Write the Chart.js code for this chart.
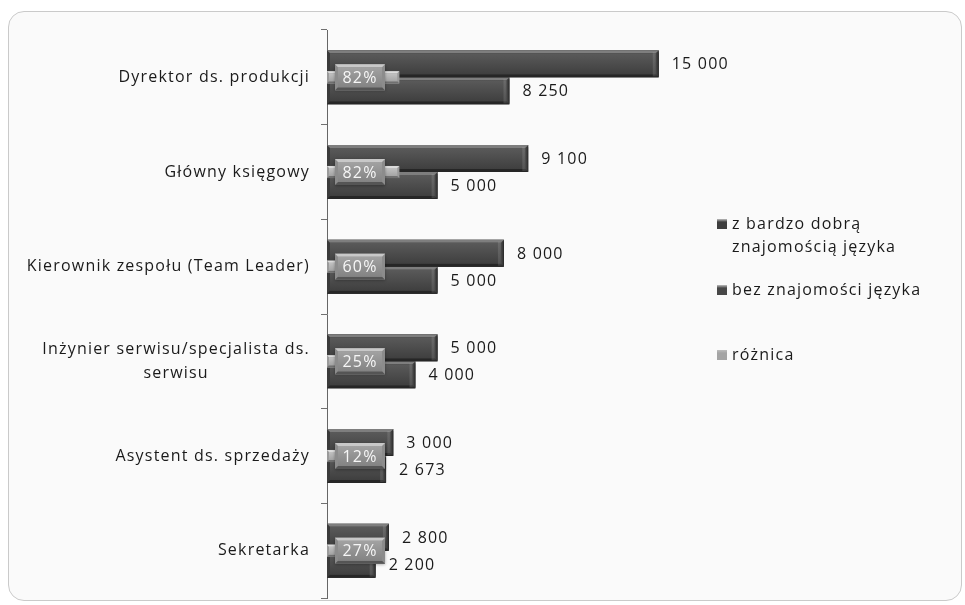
<!DOCTYPE html>
<html>
<head>
<meta charset="utf-8">
<script src="https://cdn.jsdelivr.net/npm/chart.js@4/dist/chart.umd.min.js"></script>
<style>
  html, body { margin: 0; padding: 0; background: #ffffff; }
  #frame {
    position: absolute; left: 8px; top: 11px; width: 952px; height: 588px;
    border: 1px solid #cacaca; border-radius: 16px; background: #fafafa;
  }
  #wrap { position: absolute; left: 0; top: 0; width: 965px; height: 605px; }
</style>
</head>
<body>
<div id="frame"></div>
<div id="wrap"><canvas id="chart" width="965" height="605"></canvas></div>
<script>
// Monthly salaries (PLN) by position, with and without foreign-language skills
const categories = [
  ["Dyrektor ds. produkcji"],
  ["Główny księgowy"],
  ["Kierownik zespołu (Team Leader)"],
  ["Inżynier serwisu/specjalista ds.", "serwisu"],
  ["Asystent ds. sprzedaży"],
  ["Sekretarka"]
];
const withLanguage = [15000, 9100, 8000, 5000, 3000, 2800];
const withoutLanguage = [8250, 5000, 5000, 4000, 2673, 2200];
const differencePct = [82, 82, 60, 25, 12, 27];
const seriesNames = [
  ["z bardzo dobrą", "znajomością języka"],
  ["bez znajomości języka"],
  ["różnica"]
];

const FONT = '16px "Open Sans"';
const TEXT = '#1a1a1a';

function fmt(v) {
  return String(v).replace(/\B(?=(\d{3})+(?!\d))/g, ' ');
}

function withSpacing(ctx, fn) {
  ctx.save();
  ctx.font = FONT;
  if ('letterSpacing' in ctx) ctx.letterSpacing = '1.2px';
  fn();
  ctx.restore();
}

// bevelled rectangle: light top edge, dark bottom edge, mid-tone sides
function bevelRect(ctx, x, y, w, h, b, c) {
  ctx.fillStyle = c.side;
  ctx.fillRect(x, y, w, h);
  ctx.beginPath();
  ctx.moveTo(x, y); ctx.lineTo(x + w, y); ctx.lineTo(x + w - b, y + b); ctx.lineTo(x + b, y + b);
  ctx.closePath();
  ctx.fillStyle = c.light; ctx.fill();
  ctx.beginPath();
  ctx.moveTo(x, y + h); ctx.lineTo(x + w, y + h); ctx.lineTo(x + w - b, y + h - b); ctx.lineTo(x + b, y + h - b);
  ctx.closePath();
  ctx.fillStyle = c.dark; ctx.fill();
  const g = ctx.createLinearGradient(0, y + b, 0, y + h - b);
  g.addColorStop(0, c.faceTop);
  g.addColorStop(1, c.faceBottom);
  ctx.fillStyle = g;
  ctx.fillRect(x + b, y + b, w - 2 * b, h - 2 * b);
}

// Soft drop shadow under the salary bars, then bevel shading over them
const barShadow = {
  id: 'barShadow',
  beforeDatasetDraw(chart, args) {
    if (args.index > 1) return;
    const ctx = chart.ctx;
    ctx.save();
    ctx.shadowColor = 'rgba(0,0,0,0.35)';
    ctx.shadowBlur = 4;
    ctx.shadowOffsetX = 1;
    ctx.shadowOffsetY = 2;
  },
  afterDatasetDraw(chart, args) {
    const ctx = chart.ctx;
    if (args.index <= 1) ctx.restore();
    args.meta.data.forEach(el => {
      const p = el.getProps(['x', 'y', 'base', 'height'], true);
      const left = Math.min(p.base, p.x), right = Math.max(p.base, p.x);
      const top = p.y - p.height / 2, h = p.height;
      ctx.save();
      if (args.index <= 1) {
        bevelRect(ctx, left, top, right - left, h, 3, {
          side: '#3a3a3a', light: '#7e7e7e', dark: '#262626',
          faceTop: '#5a5a5a', faceBottom: '#3f3f3f'
        });
        // end cap
        const cap = ctx.createLinearGradient(right - 6, 0, right, 0);
        cap.addColorStop(0, 'rgba(255,255,255,0.10)');
        cap.addColorStop(1, 'rgba(0,0,0,0.35)');
        ctx.fillStyle = cap;
        ctx.fillRect(right - 6, top + 2, 6, h - 3);
      } else {
        bevelRect(ctx, left, top, right - left, h, 2, {
          side: '#9a9a9a', light: '#dcdcdc', dark: '#707070',
          faceTop: '#c2c2c2', faceBottom: '#a4a4a4'
        });
      }
      ctx.restore();
    });
  }
};

// Category names, value labels, difference badges and legend
const annotations = {
  id: 'annotations',
  afterDraw(chart) {
    const ctx = chart.ctx;
    const yScale = chart.scales.y;
    const area = chart.chartArea;

    withSpacing(ctx, () => {
      ctx.fillStyle = TEXT;
      ctx.textBaseline = 'middle';
      ctx.textAlign = 'center';
      // category labels: widest line ends 17px left of the axis, other lines centred under it
      categories.forEach((lines, i) => {
        const yc = yScale.getPixelForValue(i);
        const widths = lines.map(t => ctx.measureText(t).width);
        const w = Math.max(...widths);
        const cx = area.left - 17 - w / 2;
        const lh = 24;
        const y0 = yc - (lines.length - 1) * lh / 2;
        lines.forEach((t, k) => ctx.fillText(t, cx, y0 + k * lh));
      });

      // value labels next to the bar ends
      ctx.textAlign = 'left';
      [0, 1].forEach(di => {
        const meta = chart.getDatasetMeta(di);
        meta.data.forEach((el, i) => {
          const v = chart.data.datasets[di].data[i];
          ctx.fillText(fmt(v), el.x + 13, el.y + 1);
        });
      });
    });

    // difference badges at the base of the "różnica" bars
    const dm = chart.getDatasetMeta(2);
    dm.data.forEach((el, i) => {
      const bw = 50, bh = 26;
      const bx = el.base + 8, by = el.y - bh / 2;
      ctx.save();
      ctx.shadowColor = 'rgba(0,0,0,0.35)';
      ctx.shadowBlur = 3;
      ctx.shadowOffsetY = 1;
      ctx.fillStyle = '#7a7a7a';
      ctx.fillRect(bx, by, bw, bh);
      ctx.restore();
      ctx.save();
      bevelRect(ctx, bx, by, bw, bh, 3, {
        side: '#8c8c8c', light: '#c8c8c8', dark: '#555555',
        faceTop: '#a2a2a2', faceBottom: '#838383'
      });
      ctx.restore();
      withSpacing(ctx, () => {
        ctx.fillStyle = '#f6f6f6';
        ctx.textAlign = 'center';
        ctx.textBaseline = 'middle';
        ctx.fillText(differencePct[i] + '%', bx + bw / 2, el.y + 1);
      });
    });

    // legend
    const lx = area.right + 14;
    const entryY = [224, 290, 355];
    const swatch = ['#3e3e3e', '#474747', '#a4a4a4'];
    withSpacing(ctx, () => {
      ctx.textAlign = 'left';
      ctx.textBaseline = 'middle';
      seriesNames.forEach((lines, i) => {
        const y = entryY[i];
        const g = ctx.createLinearGradient(0, y - 5, 0, y + 5);
        g.addColorStop(0, '#bdbdbd');
        g.addColorStop(0.3, swatch[i]);
        g.addColorStop(1, swatch[i]);
        ctx.fillStyle = g;
        ctx.fillRect(lx, y - 5, 10, 10);
        ctx.fillStyle = TEXT;
        lines.forEach((t, k) => ctx.fillText(t, lx + 15, y + k * 23));
      });
    });
  }
};

new Chart(document.getElementById('chart'), {
  type: 'bar',
  data: {
    labels: categories.map(l => l.join(' ')),
    datasets: [
      {
        label: seriesNames[0].join(' '),
        data: withLanguage,
        xAxisID: 'x',
        backgroundColor: '#4a4a4a',
        borderColor: '#2a2a2a',
        borderWidth: 1,
        categoryPercentage: 0.57,
        barPercentage: 1.0
      },
      {
        label: seriesNames[1].join(' '),
        data: withoutLanguage,
        xAxisID: 'x',
        backgroundColor: '#4a4a4a',
        borderColor: '#2a2a2a',
        borderWidth: 1,
        categoryPercentage: 0.57,
        barPercentage: 1.0
      },
      {
        label: seriesNames[2].join(' '),
        data: differencePct,
        xAxisID: 'x2',
        grouped: false,
        order: -1,
        barThickness: 12,
        backgroundColor: '#b2b2b2',
        borderColor: '#8c8c8c',
        borderWidth: 1
      }
    ]
  },
  options: {
    indexAxis: 'y',
    responsive: false,
    animation: false,
    layout: { padding: { top: 30, right: 262, bottom: 7, left: 0 } },
    scales: {
      y: {
        ticks: { display: false },
        grid: { drawOnChartArea: false, offset: true, tickLength: 6, color: '#707070' },
        border: { display: true, color: '#666666', width: 1 },
        afterFit(scale) { scale.width = 327; }
      },
      x: { display: false, min: 0, max: 17000 },
      x2: { display: false, min: 0, max: 427, position: 'top' }
    },
    plugins: {
      legend: { display: false },
      tooltip: { enabled: false }
    }
  },
  plugins: [barShadow, annotations]
});
</script>
</body>
</html>
